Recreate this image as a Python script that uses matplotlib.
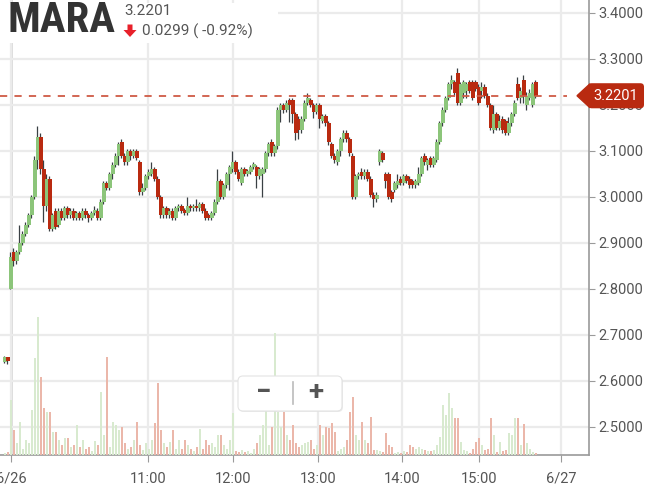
import matplotlib
matplotlib.use("Agg")
import matplotlib.pyplot as plt
from matplotlib import font_manager
from matplotlib.patches import Rectangle, FancyBboxPatch, Polygon
import numpy as np

plt.rcParams['font.family'] = ['Roboto', 'DejaVu Sans']

# 1-minute-ish bars, x = bar index (prev day at -2, -1)
bar_idx = list(range(-2, 176))

opens = [2.641, 2.652,
    2.80, 2.88, 2.86, 2.88, 2.90, 2.92, 2.94, 2.96, 3.00, 3.08,
    3.13, 3.06, 2.98, 3.04, 2.93, 2.97, 2.94, 2.97, 2.955, 2.975,
    2.96, 2.97, 2.955, 2.965, 2.955, 2.97, 2.96, 2.955, 2.965, 2.97,
    2.955, 2.99, 3.03, 3.02, 3.05, 3.07, 3.09, 3.12, 3.09, 3.075,
    3.10, 3.09, 3.10, 3.075, 3.01, 3.02, 3.045, 3.05, 3.06, 3.04,
    3.00, 2.96, 2.975, 2.96, 2.97, 2.955, 2.975, 2.98, 2.97, 2.965,
    2.98, 2.975, 2.98, 2.975, 2.985, 2.97, 2.96, 2.955, 2.965, 2.99,
    3.035, 3.00, 3.025, 3.05, 3.06, 3.075, 3.055, 3.03, 3.06, 3.05,
    3.055, 3.065, 3.065, 3.045, 3.05, 3.06, 3.095, 3.12, 3.095, 3.11,
    3.19, 3.20, 3.19, 3.21, 3.21, 3.18, 3.17, 3.145, 3.17, 3.205,
    3.21, 3.20, 3.185, 3.20, 3.165, 3.175, 3.16, 3.115, 3.09, 3.075,
    3.10, 3.125, 3.14, 3.125, 3.09, 3.00, 3.045, 3.055, 3.045, 3.055,
    3.04, 3.005, 2.995, 3.075, 3.095, 3.05, 3.05, 3.01, 3.015, 3.025,
    3.04, 3.03, 3.045, 3.04, 3.035, 3.025, 3.03, 3.05, 3.09, 3.07,
    3.085, 3.07, 3.08, 3.12, 3.16, 3.19, 3.215, 3.245, 3.25, 3.27,
    3.205, 3.225, 3.23, 3.25, 3.25, 3.25, 3.24, 3.23, 3.24, 3.22,
    3.20, 3.145, 3.18, 3.15, 3.17, 3.165, 3.14, 3.16, 3.18, 3.245,
    3.215, 3.255, 3.20, 3.215, 3.20, 3.25]

closes = [2.652, 2.643,
    2.87, 2.86, 2.88, 2.90, 2.92, 2.94, 2.96, 3.00, 3.08, 3.13,
    3.06, 2.98, 3.04, 2.93, 2.96, 2.935, 2.97, 2.955, 2.975, 2.96,
    2.97, 2.955, 2.965, 2.955, 2.97, 2.96, 2.955, 2.965, 2.97, 2.955,
    2.99, 3.03, 3.02, 3.05, 3.07, 3.09, 3.115, 3.09, 3.075, 3.10,
    3.09, 3.10, 3.085, 3.01, 3.02, 3.045, 3.055, 3.06, 3.04, 3.00,
    2.96, 2.975, 2.96, 2.97, 2.955, 2.975, 2.98, 2.97, 2.965, 2.98,
    2.975, 2.98, 2.975, 2.985, 2.97, 2.955, 2.955, 2.965, 2.99, 3.035,
    3.00, 3.025, 3.05, 3.065, 3.075, 3.055, 3.04, 3.06, 3.05, 3.055,
    3.065, 3.07, 3.045, 3.06, 3.06, 3.095, 3.115, 3.095, 3.11, 3.19,
    3.20, 3.19, 3.205, 3.20, 3.18, 3.14, 3.145, 3.17, 3.205, 3.215,
    3.20, 3.185, 3.20, 3.17, 3.175, 3.16, 3.12, 3.09, 3.08, 3.10,
    3.125, 3.14, 3.125, 3.095, 3.00, 3.045, 3.05, 3.045, 3.055, 3.04,
    3.005, 2.995, 3.005, 3.10, 3.08, 3.035, 3.00, 2.995, 3.03, 3.035,
    3.03, 3.045, 3.035, 3.025, 3.025, 3.035, 3.05, 3.085, 3.075, 3.08,
    3.07, 3.085, 3.12, 3.16, 3.19, 3.215, 3.245, 3.255, 3.226, 3.205,
    3.245, 3.25, 3.245, 3.23, 3.215, 3.235, 3.205, 3.24, 3.22, 3.20,
    3.15, 3.18, 3.15, 3.165, 3.145, 3.14, 3.16, 3.18, 3.205, 3.215,
    3.23, 3.22, 3.22, 3.225, 3.245, 3.2201]

highs = [2.654, 2.653,
    2.88, 2.89, 2.885, 2.94, 2.925, 2.945, 2.965, 3.005, 3.09, 3.155,
    3.14, 3.08, 3.05, 3.045, 2.965, 2.975, 2.975, 2.975, 2.98, 2.98,
    2.975, 2.975, 2.97, 2.97, 2.975, 2.975, 2.965, 2.97, 2.98, 2.975,
    2.995, 3.035, 3.035, 3.055, 3.075, 3.095, 3.12, 3.125, 3.095, 3.105,
    3.105, 3.105, 3.105, 3.08, 3.03, 3.05, 3.06, 3.075, 3.065, 3.045,
    3.005, 2.98, 2.98, 2.975, 2.975, 2.98, 2.985, 2.985, 2.975, 3.00,
    2.985, 2.985, 2.995, 2.99, 2.99, 2.975, 2.965, 2.97, 2.995, 3.06,
    3.04, 3.03, 3.055, 3.07, 3.10, 3.08, 3.06, 3.065, 3.065, 3.06,
    3.07, 3.075, 3.07, 3.065, 3.065, 3.10, 3.12, 3.125, 3.115, 3.195,
    3.205, 3.205, 3.21, 3.215, 3.215, 3.185, 3.175, 3.175, 3.21, 3.225,
    3.215, 3.205, 3.205, 3.205, 3.18, 3.18, 3.165, 3.12, 3.095, 3.105,
    3.13, 3.145, 3.145, 3.13, 3.095, 3.05, 3.055, 3.063, 3.06, 3.06,
    3.045, 3.01, 3.01, 3.105, 3.10, 3.055, 3.055, 3.015, 3.035, 3.05,
    3.045, 3.05, 3.05, 3.045, 3.04, 3.04, 3.066, 3.09, 3.095, 3.085,
    3.09, 3.09, 3.125, 3.165, 3.195, 3.22, 3.25, 3.265, 3.255, 3.28,
    3.25, 3.255, 3.25, 3.255, 3.255, 3.255, 3.245, 3.25, 3.245, 3.225,
    3.205, 3.20, 3.185, 3.178, 3.175, 3.17, 3.174, 3.185, 3.21, 3.26,
    3.24, 3.265, 3.228, 3.235, 3.25, 3.255]

lows = [2.640, 2.636,
    2.80, 2.85, 2.855, 2.875, 2.895, 2.915, 2.935, 2.955, 2.995, 3.06,
    3.05, 2.945, 2.97, 2.925, 2.925, 2.93, 2.935, 2.95, 2.95, 2.955,
    2.955, 2.95, 2.95, 2.95, 2.95, 2.955, 2.945, 2.95, 2.96, 2.95,
    2.95, 2.985, 3.015, 3.015, 3.04, 3.065, 3.07, 3.085, 3.07, 3.07,
    3.08, 3.085, 3.08, 3.005, 3.005, 3.015, 3.04, 3.045, 3.035, 2.995,
    2.955, 2.955, 2.955, 2.955, 2.95, 2.95, 2.97, 2.965, 2.96, 2.96,
    2.97, 2.97, 2.97, 2.97, 2.965, 2.95, 2.95, 2.95, 2.96, 2.985,
    2.995, 2.995, 3.02, 3.015, 3.055, 3.05, 3.035, 3.025, 3.045, 3.045,
    3.05, 3.06, 3.02, 3.04, 3.00, 3.055, 3.09, 3.09, 3.09, 3.105,
    3.163, 3.183, 3.185, 3.163, 3.16, 3.124, 3.125, 3.14, 3.165, 3.20,
    3.195, 3.172, 3.18, 3.15, 3.16, 3.155, 3.113, 3.085, 3.074, 3.07,
    3.09, 3.12, 3.12, 3.09, 2.995, 2.995, 3.04, 3.04, 3.04, 3.035,
    3.00, 2.978, 2.99, 3.07, 3.075, 3.02, 2.995, 2.99, 3.01, 3.02,
    3.025, 3.025, 3.03, 3.02, 3.02, 3.02, 3.025, 3.045, 3.07, 3.059,
    3.065, 3.065, 3.075, 3.115, 3.155, 3.185, 3.21, 3.235, 3.22, 3.20,
    3.20, 3.215, 3.215, 3.225, 3.21, 3.23, 3.20, 3.215, 3.215, 3.195,
    3.145, 3.14, 3.145, 3.145, 3.14, 3.135, 3.135, 3.155, 3.175, 3.21,
    3.205, 3.205, 3.19, 3.21, 3.195, 3.215]

volumes = [20, 30,
    550, 250, 120, 330, 60, 150, 120, 450, 970, 1380,
    780, 470, 430, 430, 230, 230, 150, 100, 170, 170,
    80, 100, 300, 80, 150, 60, 80, 40, 140, 100,
    630, 200, 980, 80, 330, 300, 250, 280, 120, 60,
    80, 150, 330, 100, 50, 120, 60, 150, 320, 720,
    250, 120, 80, 130, 250, 60, 150, 60, 150, 100,
    60, 40, 80, 260, 60, 150, 100, 120, 80, 200,
    200, 100, 60, 150, 420, 40, 30, 50, 30, 40,
    20, 60, 120, 200, 300, 450, 100, 280, 1220, 430,
    280, 430, 200, 150, 300, 120, 80, 100, 120, 130,
    150, 60, 100, 300, 200, 280, 270, 320, 230, 40,
    60, 80, 150, 430, 580, 200, 150, 330, 150, 120,
    380, 50, 50, 40, 30, 220, 100, 80, 20, 30,
    20, 40, 30, 100, 80, 60, 80, 60, 50, 40,
    40, 50, 100, 180, 500, 400, 620, 470, 370, 370,
    130, 50, 40, 20, 60, 130, 170, 100, 50, 60,
    370, 200, 30, 130, 40, 50, 220, 200, 370, 370,
    100, 310, 120, 60, 30, 20]

tick_pos = [0, 45.7, 74, 102.3, 130.3, 156, 183.3]
tick_labels = ['6/26', '11:00', '12:00', '13:00', '14:00', '15:00', '6/27']
price_ticks = [2.5, 2.6, 2.7, 2.8, 2.9, 3.0, 3.1, 3.2, 3.3, 3.4]

symbol = 'MARA'
last_price = closes[-1]
change = 0.0299
change_pct = -0.92

GREEN = '#8cc57a'
RED = '#b92a10'
WICK = '#3a4044'

fig = plt.figure(figsize=(6.49, 4.90), dpi=100)
rect = [0, 35 / 490, 589 / 649, 455 / 490]

ax = fig.add_axes(rect, zorder=1)
vax = fig.add_axes(rect, zorder=2, sharex=ax)
vax.patch.set_alpha(0)
vax.axis('off')

x = np.array(bar_idx)
o = np.array(opens)
c = np.array(closes)
up = c >= o

# volume
vcols = np.where(up, '#d8eacf', '#ebb7aa')
vax.bar(x, volumes, width=0.45, color=vcols, zorder=1)
vax.set_ylim(0, 4550)

# grid / axes
ax.set_ylim(2.43913, 3.42826)
ax.set_xlim(-3.667, 192.667)
ax.set_yticks(price_ticks)
ax.set_yticklabels([f'{t:.4f}' for t in price_ticks])
ax.set_xticks(tick_pos)
ax.set_xticklabels(tick_labels)
ax.grid(True, color='#ebebeb', lw=1.6, zorder=0)
ax.axvline(0, color='#d9d9d9', lw=2, zorder=0)

for s in ['left', 'top']:
    ax.spines[s].set_visible(False)
for s in ['right', 'bottom']:
    ax.spines[s].set_color('#9a9a9a')
    ax.spines[s].set_linewidth(1.2)
ax.yaxis.tick_right()
ax.tick_params(axis='y', length=4, color='#9a9a9a', labelcolor='#555555',
               labelsize=10.5, pad=3)
ax.tick_params(axis='x', length=5, color='#9a9a9a', labelcolor='#555555',
               labelsize=10.5, pad=7)

# candles
hi = np.array(highs)
lo = np.array(lows)
ax.vlines(x - 0.4, lo, hi, color=WICK, lw=0.9, zorder=2)
body_lo = np.minimum(o, c)
body_h = np.maximum(np.abs(c - o), 0.006)
ax.bar(x, body_h, bottom=body_lo, width=1.45,
       color=np.where(up, GREEN, RED), zorder=3)

# last price line + tag
ax.axhline(last_price, xmax=0.962, color='#cf5a45', ls=(0, (4, 4)), lw=1.3, zorder=4)
tr = ax.get_yaxis_transform()
ax.add_patch(Polygon([(577 / 589, last_price), (590 / 589, last_price + 0.026),
                      (590 / 589, last_price - 0.026)], closed=True,
                     transform=tr, color=RED, clip_on=False, zorder=6))
ax.text(1.008, last_price, f'{last_price:.4f}', transform=tr, ha='left', va='center',
        color='white', fontsize=10.5, clip_on=False, zorder=7,
        bbox=dict(boxstyle='round,pad=0.38,rounding_size=0.25', fc=RED, ec='none'))

# header
names = {f.name for f in font_manager.fontManager.ttflist}
if 'Roboto Condensed' in names:
    sym_family, sym_size = ['Roboto Condensed'], 31
elif 'Liberation Sans Narrow' in names:
    sym_family, sym_size = ['Liberation Sans Narrow'], 31
else:
    sym_family, sym_size = ['Roboto'], 26

fig.patches.append(Rectangle((0, 1 - 43 / 490), 278 / 649, 40 / 490,
                             transform=fig.transFigure, fc='white', ec='none', zorder=5))
fig.text(8 / 649, 1 - 21 / 490, symbol, fontsize=sym_size, fontweight='bold',
         color='#333333', va='center', ha='left', family=sym_family, zorder=6)
fig.text(124 / 649, 1 - 11 / 490, f'{last_price:.4f}', fontsize=11, color='#555555',
         va='center', ha='left', zorder=6)
dpi = fig.dpi_scale_trans
# red down arrow icon (pixels from top-left -> inches)
arrow_px = [(127.5, 24.5), (132.5, 24.5), (132.5, 30), (136.5, 30), (130, 37),
            (123.5, 30), (127.5, 30)]
fig.patches.append(Polygon([(px / 100, (490 - py) / 100) for px, py in arrow_px],
                           closed=True, transform=dpi, fc='#e8202a', ec='none', zorder=6))
fig.text(142 / 649, 1 - 31 / 490, f'{change:.4f} ( {change_pct:.2f}%)', fontsize=11,
         color='#555555', va='center', ha='left', zorder=6)

# zoom buttons
fig.patches.append(FancyBboxPatch((2.39, 0.78), 1.04, 0.35,
                                  boxstyle='round,pad=0,rounding_size=0.05',
                                  transform=dpi, fc='#dddddd', ec='none', alpha=0.6, zorder=7))
fig.patches.append(FancyBboxPatch((2.38, 0.79), 1.04, 0.35,
                                  boxstyle='round,pad=0,rounding_size=0.05',
                                  transform=dpi, fc='white', ec='#e4e4e4', lw=0.8, zorder=8))
fig.lines.append(plt.Line2D([2.93, 2.93], [0.86, 1.08], transform=dpi,
                            color='#bbbbbb', lw=1.2, zorder=9))
fig.text(2.64, 0.975, '\u2212', transform=dpi, fontsize=20, fontweight='bold',
         color='#555555', ha='center', va='center', zorder=9)
fig.text(3.16, 0.975, '+', transform=dpi, fontsize=20, fontweight='bold',
         color='#555555', ha='center', va='center', zorder=9)

fig.savefig('out.png', dpi=100)
